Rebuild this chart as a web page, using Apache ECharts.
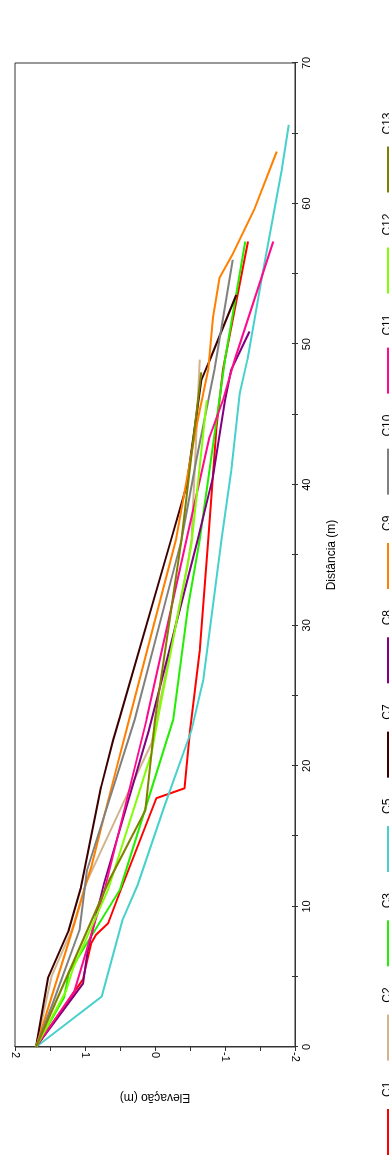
<!DOCTYPE html>
<html><head><meta charset="utf-8">
<script src="https://cdn.jsdelivr.net/npm/echarts@6/dist/echarts.min.js"></script>
<style>
html,body{margin:0;padding:0;background:#fff;overflow:hidden;width:389px;height:1163px;}
#wrap{position:absolute;left:0;top:0;width:1163px;height:389px;transform-origin:0 0;transform:translate(0,1163px) rotate(-90deg);}
#chart{width:1163px;height:389px;}
</style></head><body>
<div id="wrap"><div id="chart"></div></div>
<script>
const seriesNames = ['C1','C2','C3','C5','C7','C8','C9','C10','C11','C12','C13'];
const seriesColors = ['#ff0000','#d2b48c','#22ee00','#48d1cc','#3c0000','#800080','#ff8000','#808080','#ff0a8c','#80ff00','#808000'];
// [distance (m), elevation (m)]
const c1 = [[0,1.70],[4.8,1.03],[7.4,0.91],[8.0,0.84],[8.8,0.67],[11.3,0.48],[17.7,-0.02],[18.4,-0.42],[22.5,-0.50],[28.2,-0.64],[36.1,-0.76],[44.1,-0.88],[48.2,-0.97],[57.3,-1.33]];
const c2 = [[0,1.70],[5.0,1.48],[8.3,1.19],[11.7,0.98],[17.3,0.46],[21.6,0.05],[23.3,-0.02],[34.4,-0.47],[36.1,-0.52],[48.9,-0.64]];
const c3 = [[0,1.70],[3.5,1.30],[5.3,1.23],[11.2,0.50],[23.3,-0.26],[31.3,-0.47],[36.1,-0.64],[48.9,-1.00],[57.3,-1.29]];
const c5 = [[0,1.70],[3.6,0.76],[9.1,0.46],[11.5,0.25],[17.2,-0.14],[22.5,-0.52],[26.1,-0.69],[36.1,-0.95],[41.0,-1.09],[46.5,-1.21],[48.9,-1.32],[54.6,-1.52],[62.4,-1.81],[65.6,-1.91]];
const c7 = [[0,1.70],[4.9,1.53],[8.2,1.24],[11.3,1.06],[18.5,0.77],[21.8,0.60],[23.5,0.50],[36.1,-0.23],[39.9,-0.45],[47.4,-0.66],[48.6,-0.76],[53.5,-1.16]];
const c8 = [[0,1.70],[4.5,1.03],[6.9,0.96],[11.6,0.73],[22.5,0.09],[36.1,-0.61],[40.6,-0.83],[46.0,-1.00],[48.2,-1.09],[50.9,-1.35]];
const c9 = [[0,1.70],[8.8,1.15],[11.4,1.00],[12.8,0.91],[15.2,0.79],[18.5,0.62],[22.5,0.41],[36.1,-0.30],[44.1,-0.59],[48.2,-0.76],[51.9,-0.83],[54.7,-0.92],[56.4,-1.11],[59.6,-1.42],[63.7,-1.74]];
const c10 = [[0,1.70],[3.1,1.46],[8.3,1.08],[12.6,0.97],[23.3,0.29],[36.1,-0.38],[42.0,-0.60],[48.2,-0.85],[56.0,-1.11]];
const c11 = [[0,1.70],[4.0,1.15],[11.2,0.72],[23.3,0.12],[36.1,-0.45],[43.4,-0.78],[46.0,-0.97],[48.9,-1.14],[57.3,-1.69]];
const c12 = [[0,1.70],[4.0,1.27],[5.6,1.17],[11.2,0.67],[20.9,0.05],[23.3,-0.04],[35.8,-0.52],[46.0,-0.74]];
const c13 = [[0,1.70],[11.9,0.65],[16.8,0.14],[20.9,0.05],[23.3,0.00],[36.1,-0.38],[48.0,-0.66]];
const seriesData = [c1,c2,c3,c5,c7,c8,c9,c10,c11,c12,c13];
const xName = 'Distância (m)';
const yName = 'Elevação (m)';
const xMin = 0, xMax = 70, xStep = 5, xLabelStep = 10;
const yMin = -2, yMax = 2, yStep = 0.5;

const FONT = 'Liberation Sans, Arial, sans-serif';
const chart = echarts.init(document.getElementById('chart'), null, {renderer:'canvas'});
const axisCol = '#333';
const option = {
  animation: false,
  backgroundColor: '#fff',
  grid: {left:116, right:63, top:15, bottom:94, show:true, borderColor:axisCol, borderWidth:1, backgroundColor:'transparent'},
  legend: {
    data: seriesNames, left: 3, top: 377, width: 1200, icon: 'rect', itemWidth: 46, itemHeight: 2, itemGap: 21,
    textStyle: {fontFamily: FONT, fontSize: 12, color: '#000', width: 28, padding: [0,0,0,7]}
  },
  xAxis: [
    {type:'value', min:xMin, max:xMax, interval:xStep, position:'bottom',
     name:xName, nameLocation:'middle', nameGap:31, nameTextStyle:{fontFamily:FONT,fontSize:12,color:'#000'},
     axisLine:{show:true,onZero:false,lineStyle:{color:axisCol,width:1}},
     axisTick:{show:true,inside:true,length:3,lineStyle:{color:axisCol}},
     axisLabel:{fontFamily:FONT,fontSize:11,color:'#000',margin:6,formatter:v => (v % xLabelStep === 0 ? String(v) : '')},
     splitLine:{show:false}},
    {type:'value', min:xMin, max:xMax, interval:xStep, position:'bottom',
     axisLine:{show:true,onZero:false,lineStyle:{color:axisCol,width:1}},
     axisTick:{show:true,inside:false,length:3,lineStyle:{color:axisCol}},
     axisLabel:{show:false}, splitLine:{show:false}}
  ],
  yAxis: {type:'value', min:yMin, max:yMax, interval:yStep,
    name:yName, nameLocation:'middle', nameGap:44, nameRotate:90, nameTextStyle:{fontFamily:FONT,fontSize:12,color:'#000'},
    axisLine:{show:true,onZero:false,lineStyle:{color:axisCol,width:1}},
    axisTick:{show:true,inside:false,length:4,lineStyle:{color:axisCol}},
    axisLabel:{fontFamily:FONT,fontSize:11,color:'#000',margin:5,rotate:180,formatter:v => (Number.isInteger(v) ? String(v) : '')},
    splitLine:{show:false}},
  series: seriesNames.map((n,i) => ({
    name:n, type:'line', data:seriesData[i], xAxisIndex:0, symbol:'none', showSymbol:false,
    color:seriesColors[i], lineStyle:{width:2,color:seriesColors[i]}
  }))
};
chart.setOption(option);
</script>
</body></html>
